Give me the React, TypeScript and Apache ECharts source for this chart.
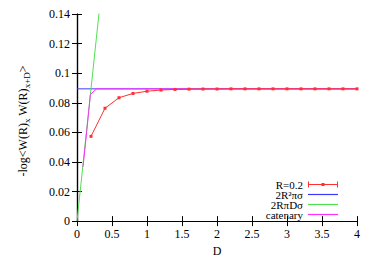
import React, { useEffect, useRef } from "react";
import * as echarts from "echarts";

const redD = [0.2, 0.4, 0.6, 0.8, 1.0, 1.2, 1.4, 1.6, 1.8, 2.0, 2.2, 2.4, 2.6, 2.8, 3.0, 3.2, 3.4, 3.6, 3.8, 4.0];
const redV = [0.0573, 0.0763, 0.0834, 0.0863, 0.0878, 0.0886, 0.089, 0.0892, 0.0893, 0.0893, 0.0894, 0.0894, 0.0894, 0.0894, 0.0894, 0.0894, 0.0894, 0.0894, 0.0894, 0.0894];
const blueD = [0, 4];
const blueV = [0.0894, 0.0894];
const greenD = [0, 0.4];
const greenV = [0, 0.1788];
const catD = [0.085, 0.1, 0.12, 0.14, 0.16, 0.18, 0.19, 0.28, 4];
const catV = [0.0366, 0.043, 0.052, 0.0613, 0.0707, 0.08, 0.0856, 0.0894, 0.0894];
const names = ["R=0.2", "2R²πσ", "2RπDσ", "catenary"];
const yTitleParts: [string, boolean][] = [["-log<W(R)", false], ["x", true], [" W(R)", false], ["x+D", true], [">", false]];

const pair = (xs: number[], ys: number[]) => xs.map((x, i) => [x, ys[i]]);

const FONT = "Liberation Serif";
const LINE_ICON = "path://M0,0h30v1.2h-30z";

export default function App() {
  const ref = useRef<HTMLDivElement>(null);
  useEffect(() => {
    const chart = echarts.init(ref.current!, undefined, { renderer: "svg" });
    const ctx = document.createElement("canvas").getContext("2d")!;
    const measure = (t: string, size: number) => {
      ctx.font = `${size}px "${FONT}"`;
      return ctx.measureText(t).width;
    };
    const parts = yTitleParts.map(([t, sub]) => ({ t, sub, size: sub ? 9 : 12 }));
    const widths = parts.map((p) => measure(p.t, p.size));
    const total = widths.reduce((a, b) => a + b, 0);
    let cum = 0;
    const children = parts.map((p, i) => {
      const el = {
        type: "text", x: cum, y: p.sub ? 4 : 0,
        style: { text: p.t, fontFamily: FONT, fontSize: p.size, fill: "#000", verticalAlign: "middle" },
      };
      cum += widths[i];
      return el;
    });

    const axisCommon = {
      axisLine: { show: true, lineStyle: { color: "#000", width: 1.2 } },
      axisTick: { show: true, inside: true, length: 5, lineStyle: { color: "#000" } },
      splitLine: { show: false },
    };
    chart.setOption({
      animation: false,
      backgroundColor: "#fff",
      grid: { left: 77, top: 14, right: 17, bottom: 37 },
      graphic: [
        { type: "group", x: 23, y: 121 + total / 2, rotation: Math.PI / 2, children },
      ],
      xAxis: [
        {
          type: "value", min: 0, max: 4, interval: 0.5,
          ...axisCommon,
          axisLabel: { fontFamily: FONT, fontSize: 12, color: "#000", margin: 7 },
          name: "D", nameLocation: "middle", nameGap: 22,
          nameTextStyle: { fontFamily: FONT, fontSize: 12, color: "#000" },
        },
        {
          type: "value", min: 0, max: 4, interval: 0.5, position: "top",
          ...axisCommon, axisLabel: { show: false },
        },
      ],
      yAxis: [
        {
          type: "value", min: 0, max: 0.14, interval: 0.02,
          ...axisCommon,
          axisLabel: { fontFamily: FONT, fontSize: 12, color: "#000", margin: 7 },
        },
        {
          type: "value", min: 0, max: 0.14, interval: 0.02, position: "right",
          ...axisCommon, axisLabel: { show: false },
        },
      ],
      legend: {
        orient: "vertical", right: 31, top: 174, align: "right",
        itemWidth: 30, itemHeight: 8, itemGap: -1,
        textStyle: { fontFamily: FONT, fontSize: 11, color: "#000" },
        data: [
          { name: names[0], icon: "path://M0,2.5h30v1h-30z M0,0h1v6h-1z M29,0h1v6h-1z M13.5,1.5h3v3h-3z" },
          { name: names[1], icon: LINE_ICON },
          { name: names[2], icon: LINE_ICON },
          { name: names[3], icon: LINE_ICON },
        ],
      },
      series: [
        {
          name: names[0], type: "line", data: pair(redD, redV), z: 5,
          symbol: "rect", symbolSize: 3, showSymbol: true,
          itemStyle: { color: "#ff3030" }, lineStyle: { color: "#ff3030", width: 1 },
        },
        {
          name: names[1], type: "line", data: pair(blueD, blueV), symbol: "none",
          itemStyle: { color: "#3a3aff" }, lineStyle: { color: "#3a3aff", width: 1 },
        },
        {
          name: names[2], type: "line", data: pair(greenD, greenV), symbol: "none",
          itemStyle: { color: "#50e050" }, lineStyle: { color: "#50e050", width: 1 },
        },
        {
          name: names[3], type: "line", data: pair(catD, catV), symbol: "none", z: 3,
          itemStyle: { color: "#ff30ff" }, lineStyle: { color: "#ff30ff", width: 1 },
        },
      ],
    });
    return () => chart.dispose();
  }, []);
  return <div ref={ref} style={{ width: 374, height: 262, position: "absolute", left: 0, top: 0 }} />;
}
